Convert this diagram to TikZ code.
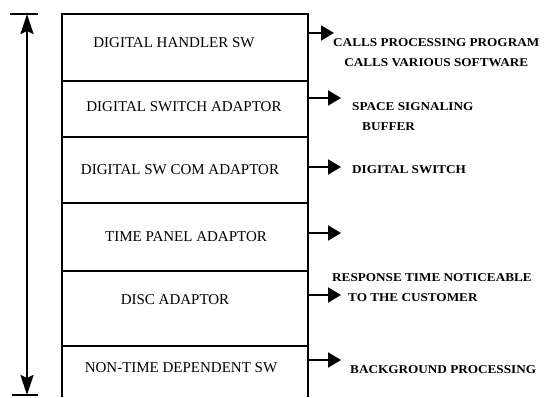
\documentclass[tikz,border=0pt]{standalone}
\usepackage{fontspec}
\setmainfont{Liberation Serif}
\newfontfamily\notefont[FakeStretch=1.1]{Liberation Serif}
\usepackage{tikz}
\usetikzlibrary{arrows.meta,positioning,calc}
\tikzset{
  layerbox/.style={draw,line width=2pt,minimum width=246pt,inner sep=0pt,outer sep=0pt},
  layeropen/.style={minimum width=246pt,inner sep=0pt,outer sep=0pt},
  layertext/.style={inner sep=0pt,font=\fontsize{15}{18}\selectfont},
  layeredge/.style={line width=2pt},
  notelabel/.style={anchor=west,inner sep=0pt,align=left,font=\notefont\bfseries\fontsize{12}{20}\selectfont},
  flowarr/.style={-{Triangle[length=13pt,width=15pt]},line width=2pt},
  spanarr/.style={{Stealth[length=20pt,width=13pt,inset=3pt]}-{Stealth[length=20pt,width=13pt,inset=3pt]},line width=2pt},
  every label/.style={layertext},
}
\begin{document}
\begin{tikzpicture}[x=1pt,y=-1pt]
\useasboundingbox (0,0) rectangle (545,397);
 % stacked layers
\node[layerbox,minimum height=67pt,label={[xshift=-11pt,yshift=4.5pt]center:DIGITAL HANDLER SW}] (hnd) at (185,47.5) {};
\node[layerbox,minimum height=56pt,below=0pt of hnd,label={[xshift=-1pt,yshift=2pt]center:DIGITAL SWITCH ADAPTOR}] (swa) {};
\node[layerbox,minimum height=66pt,below=0pt of swa,label={[xshift=-5pt]center:DIGITAL SW COM ADAPTOR}] (com) {};
\node[layerbox,minimum height=68pt,below=0pt of com,label={[xshift=1pt]center:TIME PANEL ADAPTOR}] (tpa) {};
\node[layerbox,minimum height=75pt,below=0pt of tpa,label={[xshift=-10pt,yshift=8.5pt]center:DISC ADAPTOR}] (dsc) {};
\node[layeropen,minimum height=51pt,below=0pt of dsc,label={[xshift=-4pt,yshift=3.5pt]center:NON-TIME DEPENDENT SW}] (ntd) {};
\draw[layeredge] (ntd.north west) -- (ntd.south west) (ntd.north east) -- (ntd.south east);
 % span arrow
\coordinate (spantop) at (27,14);
\coordinate (spanbot) at (27,395);
\draw[spanarr] (spanbot) -- (spantop);
\draw[layeredge] ([xshift=-17pt]spantop) -- ([xshift=11pt]spantop);
\draw[layeredge] ([xshift=-15pt]spanbot) -- ([xshift=11pt]spanbot);
 % notes
\coordinate (hndtip) at (334,33);
\coordinate (swatip) at (341,98);
\coordinate (comtip) at (341,167);
\coordinate (tpatip) at (341,233);
\coordinate (dsctip) at (341,295);
\coordinate (ntdtip) at (341,360);
\foreach \b in {hnd,swa,com,tpa,dsc,ntd}
  \draw[flowarr] (\b.east |- \b tip) -- (\b tip);
\node[notelabel,align=center] (hndnote) at (333,53) {CALLS PROCESSING PROGRAM\\CALLS VARIOUS SOFTWARE};
\node[notelabel] (swanote) at (352,117) {SPACE SIGNALING\\\hspace*{10pt}BUFFER};
\node[notelabel] (comnote) at (352,170) {DIGITAL SWITCH};
\node[notelabel] (dscnote) at (332,288) {RESPONSE TIME NOTICEABLE\\\hspace*{16pt}TO THE CUSTOMER};
\node[notelabel] (ntdnote) at (350,370) {BACKGROUND PROCESSING};
\end{tikzpicture}
\end{document}
